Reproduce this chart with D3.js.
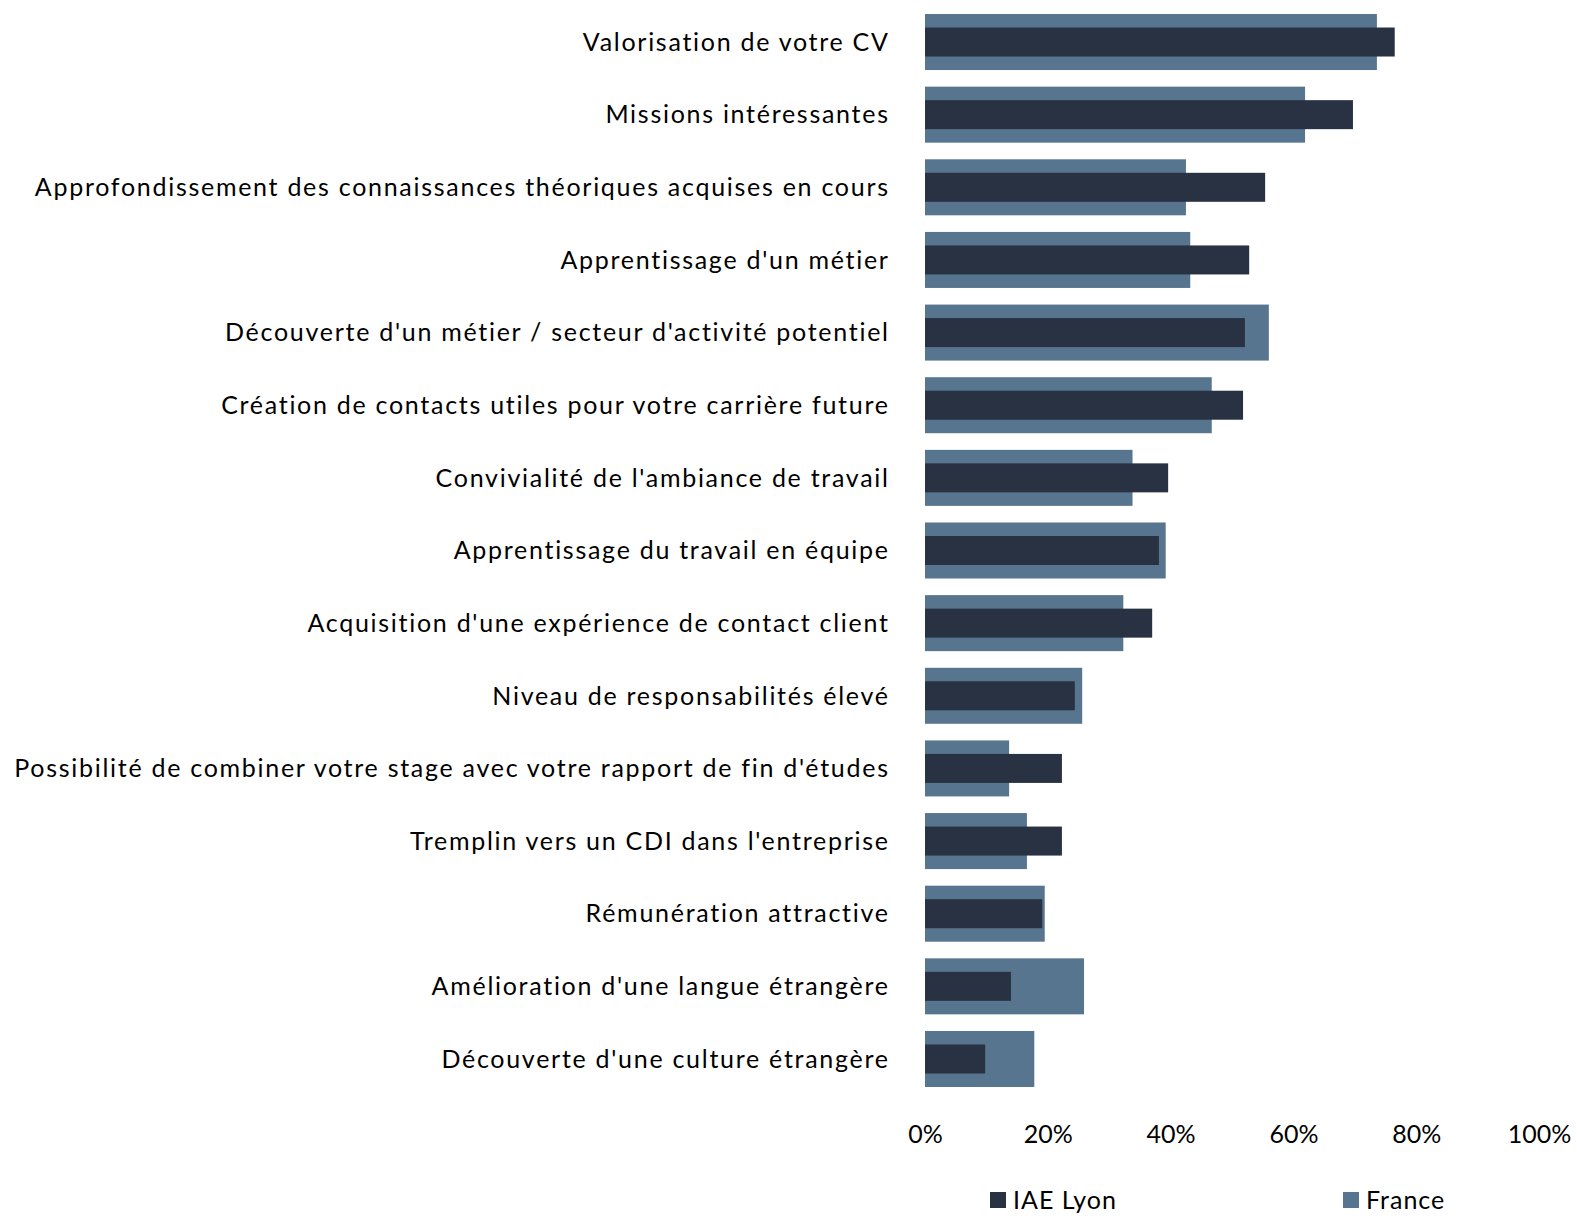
<!DOCTYPE html>
<html>
<head>
<meta charset="utf-8">
<script src="https://cdn.jsdelivr.net/npm/d3@7"></script>
<style>
  body { margin: 0; background: #fff; }
  text { font-family: Lato, "Open Sans", sans-serif; fill: #000; }
</style>
</head>
<body>
<div id="chart"></div>
<script>
// Chart data
var categories = [
  "Valorisation de votre CV",
  "Missions intéressantes",
  "Approfondissement des connaissances théoriques acquises en cours",
  "Apprentissage d'un métier",
  "Découverte d'un métier / secteur d'activité potentiel",
  "Création de contacts utiles pour votre carrière future",
  "Convivialité de l'ambiance de travail",
  "Apprentissage du travail en équipe",
  "Acquisition d'une expérience de contact client",
  "Niveau de responsabilités élevé",
  "Possibilité de combiner votre stage avec votre rapport de fin d'études",
  "Tremplin vers un CDI dans l'entreprise",
  "Rémunération attractive",
  "Amélioration d'une langue étrangère",
  "Découverte d'une culture étrangère"
];
var iaeLyon = [0.765, 0.697, 0.554, 0.528, 0.521, 0.518, 0.396, 0.381, 0.370, 0.244, 0.223, 0.223, 0.191, 0.140, 0.098];
var france = [0.736, 0.619, 0.425, 0.432, 0.560, 0.467, 0.338, 0.392, 0.323, 0.256, 0.137, 0.166, 0.195, 0.259, 0.178];
var xTicks = [0, 0.2, 0.4, 0.6, 0.8, 1];
var seriesNames = ["IAE Lyon", "France"];
var colors = { "IAE Lyon": "#283242", "France": "#57758f" };

var w = 1577, h = 1218;

var svg = d3.select('#chart')
  .append('svg').attr('width', w).attr('height', h);

var x = d3.scaleLinear().domain([0, 1]).range([925, 1539]);
var y = d3.scaleBand().domain(categories)
  .range([5.7, 1095.3]).paddingInner(0.229).paddingOuter(0.1145);

// France bars (wide, behind)
svg.selectAll('rect.france')
  .data(categories)
  .enter().append('rect')
  .attr('class', 'france')
  .attr('x', x(0))
  .attr('y', function(d) { return y(d); })
  .attr('width', function(d, i) { return x(france[i]) - x(0); })
  .attr('height', y.bandwidth())
  .attr('fill', colors["France"]);

// IAE Lyon bars (narrow, in front)
var inner = 29;
svg.selectAll('rect.iae')
  .data(categories)
  .enter().append('rect')
  .attr('class', 'iae')
  .attr('x', x(0))
  .attr('y', function(d) { return y(d) + (y.bandwidth() - inner) / 2; })
  .attr('width', function(d, i) { return x(iaeLyon[i]) - x(0); })
  .attr('height', inner)
  .attr('fill', colors["IAE Lyon"]);

// Category labels
svg.selectAll('text.cat')
  .data(categories)
  .enter().append('text')
  .attr('class', 'cat')
  .attr('x', 889.7)
  .attr('y', function(d) { return y(d) + y.bandwidth() / 2; })
  .attr('dy', '0.35em')
  .attr('text-anchor', 'end')
  .style('font-size', '25px')
  .style('letter-spacing', '1.72px')
  .text(function(d) { return d; });

// X axis (labels only)
var xAxis = d3.axisBottom(x).tickValues(xTicks)
  .tickFormat(d3.format('.0%')).tickSize(0).tickPadding(0);
var gx = svg.append('g').attr('transform', 'translate(0,1125)').call(xAxis);
gx.select('.domain').remove();
gx.selectAll('text').style('font-size', '25px').attr('font-family', null);

// Legend
var legend = svg.selectAll('g.legend')
  .data(seriesNames)
  .enter().append('g')
  .attr('class', 'legend')
  .attr('transform', function(d, i) { return 'translate(' + [990, 1343][i] + ',1192)'; });
legend.append('rect').attr('width', 16).attr('height', 16)
  .attr('fill', function(d) { return colors[d]; });
legend.append('text').attr('x', 23).attr('y', 8).attr('dy', '0.35em')
  .style('font-size', '25px')
  .style('letter-spacing', '1px')
  .text(function(d) { return d; });
</script>
</body>
</html>
